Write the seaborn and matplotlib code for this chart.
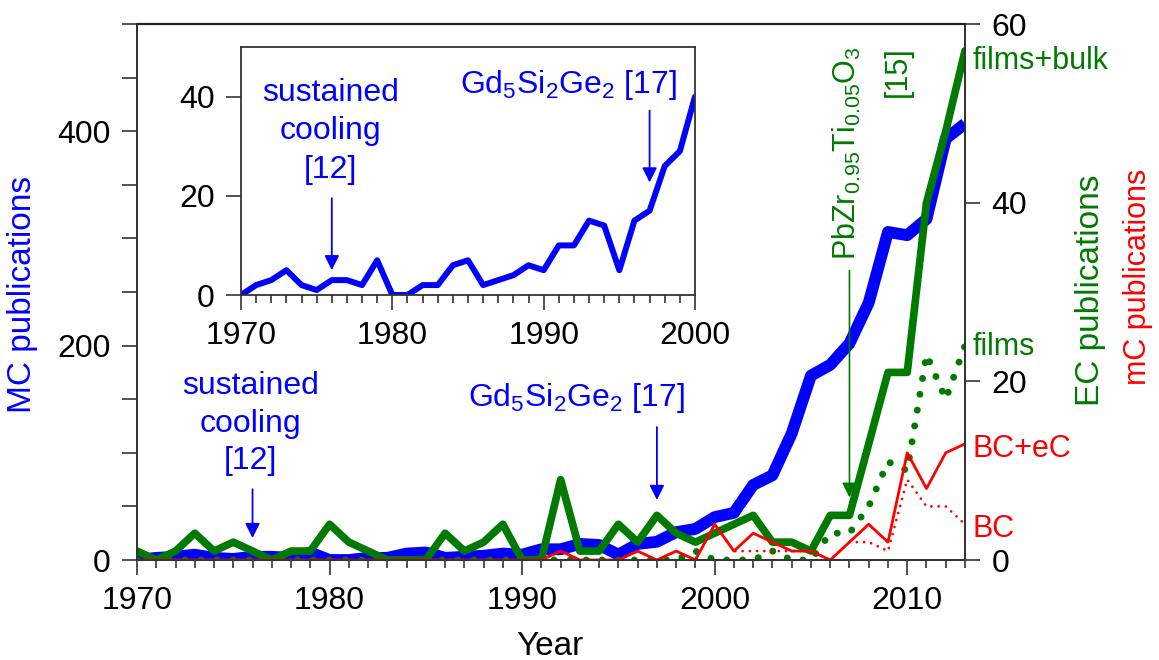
import matplotlib
matplotlib.use("Agg")
import matplotlib.pyplot as plt
import seaborn as sns
import pandas as pd
from matplotlib.ticker import FixedLocator, MultipleLocator, FuncFormatter

# ---------------- data ----------------
years = list(range(1970, 2014))
mc_pubs = [0, 2, 3, 5, 2, 1, 3, 3, 2, 7,
           0, 0, 2, 2, 6, 7, 2, 3, 4, 6,
           5, 10, 10, 15, 14, 5, 15, 17, 26, 29,
           40, 44, 70, 79, 118, 172, 182, 202, 240, 306,
           303, 318, 393, 407]
ec_films_bulk = [1, 0, 1, 3, 1, 2, 1, 0, 1, 1,
                 4, 2, 1, 0, 0, 0, 3, 1, 2, 4,
                 0, 0, 9, 1, 1, 4, 2, 5, 3, 2,
                 3, 4, 5, 2, 2, 1, 5, 5, 13, 21,
                 21, 40, 48, 57]
ec_films = [0, 0, 0, 0, 0, 0, 0, 0, 0, 0,
            0, 0, 0, 0, 0, 0, 0, 0, 0, 0,
            0, 0, 0, 0, 0, 0, 0, 0, 0, 1,
            0, 0, 0, 1, 0, 0, 3, 3, 6, 11,
            10, 23, 18, 24]
mc_bc_ec = [0, 0, 0, 0, 0, 0, 0, 0, 0, 0,
            0, 0, 0, 0, 0, 0, 0, 0, 0, 0,
            0, 0, 1, 0, 0, 0, 1, 0, 1, 0,
            4, 1, 3, 2, 1, 1, 0, 2, 4, 2,
            12, 8, 12, 13]
mc_bc = [0, 0, 0, 0, 0, 0, 0, 0, 0, 0,
         0, 0, 0, 0, 0, 0, 0, 0, 0, 0,
         0, 0, 1, 0, 0, 0, 1, 0, 1, 0,
         4, 1, 1, 1, 1, 1, 0, 2, 2, 1,
         9, 6, 6, 4]
inset_end = 2000
left_ticks = [0, 200, 400]
right_ticks = [0, 20, 40, 60]
inset_ticks = [0, 20, 40]

df = pd.DataFrame({"year": years, "mc": mc_pubs, "ec": ec_films_bulk,
                   "films": ec_films, "bcec": mc_bc_ec, "bc": mc_bc})
df_in = df[df["year"] <= inset_end]

# ---------------- style ----------------
sns.set_theme(style="white")
plt.rcParams["font.family"] = ["Liberation Sans", "DejaVu Sans"]
plt.rcParams["mathtext.default"] = "regular"
plt.rcParams["text.color"] = "black"

BLUE = "#0000ff"
GREEN = "#007a00"
RED = "#ff0000"
SPINE = "#333333"
FS = 23

W, H = 1159, 660
fig = plt.figure(figsize=(W / 100, H / 100), dpi=100)

def px_rect(l, t, r, b):
    return [l / W, (H - b) / H, (r - l) / W, (b - t) / H]

ax = fig.add_axes(px_rect(137, 24, 965, 560))
ax2 = ax.twinx()

# ---------------- main lines ----------------
sns.lineplot(data=df, x="year", y="mc", ax=ax, color=BLUE, linewidth=8.5,
             solid_joinstyle="round", solid_capstyle="butt")
sns.lineplot(data=df, x="year", y="ec", ax=ax2, color=GREEN, linewidth=5.5,
             solid_joinstyle="round")
sns.lineplot(data=df, x="year", y="films", ax=ax2, color=GREEN, linewidth=5.0,
             linestyle=(0, (0.01, 2.3)), dash_capstyle="round")
sns.lineplot(data=df, x="year", y="bcec", ax=ax2, color=RED, linewidth=2.0)
sns.lineplot(data=df, x="year", y="bc", ax=ax2, color=RED, linewidth=2.0,
             linestyle=(0, (0.01, 2.6)), dash_capstyle="round")

ax.set_xlim(1970, 2013)
ax.set_ylim(0, 500)
ax2.set_ylim(0, 60)

for a in (ax, ax2):
    a.set_xlabel("")
    a.set_ylabel("")
    for s in a.spines.values():
        s.set_visible(True)
        s.set_color(SPINE)
        s.set_linewidth(1.3)
        s.set_zorder(10)
    a.set_facecolor("none")
# explicit top frame line of the main plot box (figure-level, drawn last)
top_frac = (H - 24) / H
fig.add_artist(plt.Line2D([137 / W, 965 / W], [top_frac, top_frac],
                          color="#222222", lw=1.6, zorder=20))

ax.xaxis.set_major_locator(MultipleLocator(10))
ax.xaxis.set_minor_locator(MultipleLocator(1))
ax.yaxis.set_major_locator(MultipleLocator(50))
ax.yaxis.set_major_formatter(FuncFormatter(lambda v, p: f"{int(v)}" if int(round(v)) in left_ticks else ""))
ax.tick_params(axis="x", which="major", direction="out", length=11, width=1.2,
               color=SPINE, labelcolor="black", labelsize=FS, pad=8, bottom=True, top=False)
ax.tick_params(axis="x", which="minor", direction="out", length=6, width=1.2,
               color=SPINE, bottom=True, top=False)
ax.tick_params(axis="y", which="major", direction="out", length=11, width=1.2,
               color=SPINE, labelcolor="black", labelsize=FS, pad=8, left=True)
ax2.yaxis.set_major_locator(FixedLocator(right_ticks))
ax2.tick_params(axis="y", which="major", direction="out", length=11, width=1.2,
                color=SPINE, labelcolor="black", labelsize=FS, pad=8, right=True)

# ---------------- annotations main ----------------
ax.text(1975.9, 127, "sustained\ncooling\n[12]", color=BLUE, fontsize=FS,
        ha="center", va="center", linespacing=1.32)
ax.annotate("", xy=(1976, 20.5), xytext=(1976, 66),
            arrowprops=dict(arrowstyle="-|>", color=BLUE, lw=1.3,
                            mutation_scale=22, shrinkA=0, shrinkB=0))
ax.text(1992.8, 144, "Gd$_5$Si$_2$Ge$_2$ [17]", color=BLUE, fontsize=FS,
        ha="center", va="baseline")
ax.annotate("", xy=(1997, 56), xytext=(1997, 124),
            arrowprops=dict(arrowstyle="-|>", color=BLUE, lw=1.3,
                            mutation_scale=22, shrinkA=0, shrinkB=0))

ax2.text(2006.88, 57.5, "PbZr$_{0.95}$Ti$_{0.05}$O$_3$", color=GREEN,
         fontsize=22, rotation=90, ha="center", va="top")
ax2.text(2009.5, 57.5, "[15]", color=GREEN,
         fontsize=22, rotation=90, ha="center", va="top")
ax2.annotate("", xy=(2007, 7.0), xytext=(2007, 32.4),
             arrowprops=dict(arrowstyle="-|>", color=GREEN, lw=1.2,
                             mutation_scale=22, shrinkA=0, shrinkB=0))

for lbl, yv, col in [("films+bulk", 55.0, GREEN), ("films", 22.9, GREEN),
                     ("BC+eC", 11.5, RED), ("BC", 2.6, RED)]:
    ax2.text(2013.4, yv, lbl, color=col, fontsize=FS - 1, ha="left",
             va="baseline", clip_on=False)

# axis titles
fig.text(23 / W, 1 - 294 / H, "MC publications", color=BLUE, fontsize=24,
         rotation=90, ha="center", va="center")
fig.text(1090 / W, 1 - 290 / H, "EC publications", color=GREEN, fontsize=24,
         rotation=90, ha="center", va="center")
fig.text(1138 / W, 1 - 277 / H, "mC publications", color=RED, fontsize=22,
         rotation=90, ha="center", va="center")
fig.text(550 / W, 1 - 655 / H, "Year", color="black", fontsize=24,
         ha="center", va="baseline")

# ---------------- inset ----------------
axin = fig.add_axes(px_rect(241, 47, 695, 295))
axin.set_facecolor("white")
sns.lineplot(data=df_in, x="year", y="mc", ax=axin, color=BLUE, linewidth=4.3)
axin.set_xlim(1970, 2000)
axin.set_ylim(0, 50)
axin.set_xlabel("")
axin.set_ylabel("")
axin.xaxis.set_major_locator(MultipleLocator(10))
axin.xaxis.set_minor_locator(MultipleLocator(1))
axin.yaxis.set_major_locator(FixedLocator(inset_ticks))
for s in axin.spines.values():
    s.set_visible(True)
    s.set_color(SPINE)
    s.set_linewidth(1.3)
axin.tick_params(axis="x", which="major", direction="out", length=11, width=1.2,
                 color=SPINE, labelcolor="black", labelsize=FS, pad=8, bottom=True)
axin.tick_params(axis="x", which="minor", direction="out", length=6, width=1.2,
                 color=SPINE, bottom=True)
axin.tick_params(axis="y", which="major", direction="out", length=11, width=1.2,
                 color=SPINE, labelcolor="black", labelsize=FS, pad=8, left=True)

axin.text(1975.9, 33.0, "sustained\ncooling\n[12]", color=BLUE, fontsize=FS,
          ha="center", va="center", linespacing=1.38)
axin.annotate("", xy=(1976, 5.0), xytext=(1976, 19.5),
              arrowprops=dict(arrowstyle="-|>", color=BLUE, lw=1.3,
                              mutation_scale=22, shrinkA=0, shrinkB=0))
axin.text(1991.6, 40.8, "Gd$_5$Si$_2$Ge$_2$ [17]", color=BLUE, fontsize=FS,
          ha="center", va="baseline")
axin.annotate("", xy=(1997, 22.7), xytext=(1997, 37.2),
              arrowprops=dict(arrowstyle="-|>", color=BLUE, lw=1.3,
                              mutation_scale=22, shrinkA=0, shrinkB=0))

fig.savefig("out.png", dpi=100)
